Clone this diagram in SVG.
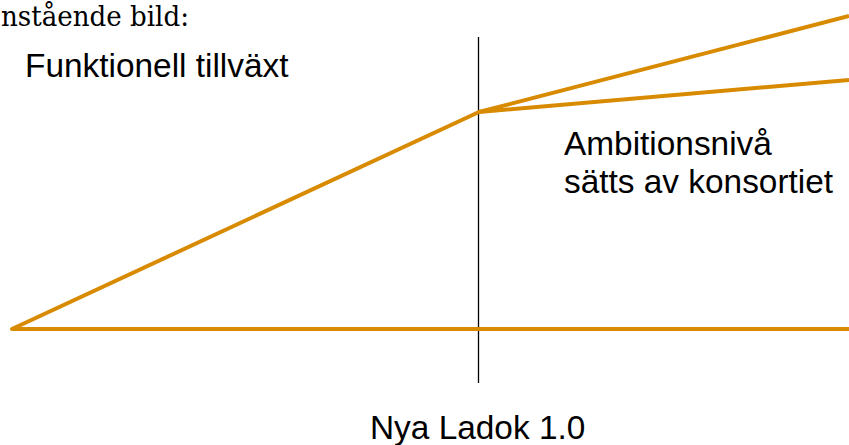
<svg xmlns="http://www.w3.org/2000/svg" width="849" height="445" viewBox="0 0 849 445">
<style>
.s{font-family:"Liberation Sans",Arial,sans-serif;font-size:33.4px;fill:#000}
.serif{font-family:"DejaVu Serif","Liberation Serif",serif;font-size:27px;fill:#000}
.o{stroke:#d88b00;stroke-width:4;fill:none;stroke-linecap:butt;stroke-linejoin:round}
.v{stroke:#000;stroke-width:1.3;fill:none}
</style>
<rect width="849" height="445" fill="#fff"/>
<text class="serif" x="1" y="26" textLength="188" lengthAdjust="spacingAndGlyphs">nstående bild:</text>
<g id="connectors">
<line class="v" x1="478.5" y1="37" x2="478.5" y2="383"/>
<polyline class="o" points="849,329 12,329 479,112 849,16"/>
<line class="o" x1="479" y1="112" x2="849" y2="80"/>
</g>
<g id="label-funktionell">
<text class="s" x="25" y="77">Funktionell tillväxt</text>
</g>
<g id="label-ambition">
<text class="s" x="564" y="155">Ambitionsnivå</text>
<text class="s" x="564" y="193">sätts av konsortiet</text>
</g>
<g id="label-nya-ladok">
<text class="s" x="370" y="439">Nya Ladok 1.0</text>
</g>
</svg>
